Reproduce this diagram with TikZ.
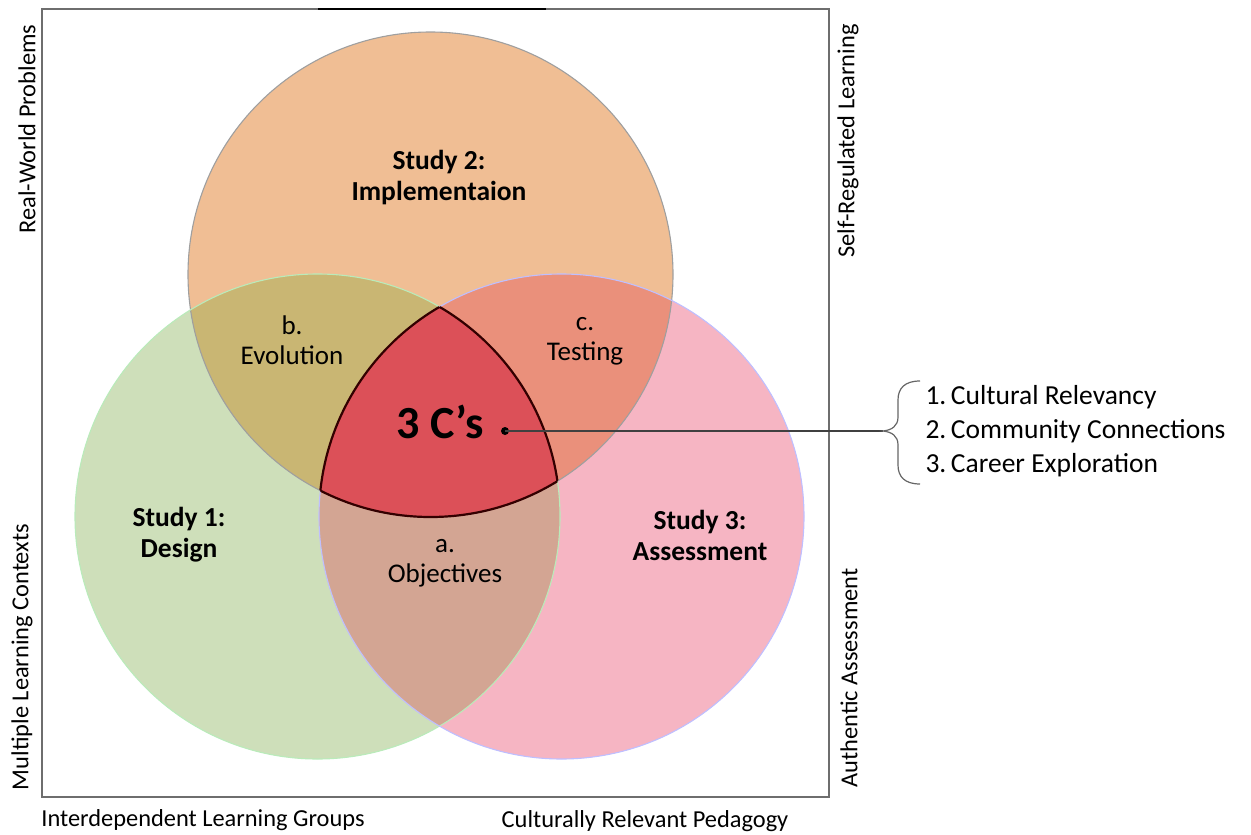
\documentclass[tikz,border=0pt]{standalone}
\usepackage{fontspec}
\setmainfont{Carlito}
\usetikzlibrary{positioning}

\definecolor{greenset}{HTML}{CEDFBA}
\definecolor{orangeset}{HTML}{F0BE94}
\definecolor{pinkset}{HTML}{F6B5C3}
\definecolor{olivecut}{HTML}{C9B673}
\definecolor{salmoncut}{HTML}{EA907B}
\definecolor{tancut}{HTML}{D3A593}
\definecolor{corecut}{HTML}{DC5058}
\definecolor{framegray}{HTML}{6E6E6E}

\begin{document}
\begin{tikzpicture}[x=1pt, y=-1pt,
    axislbl/.style={font=\fontsize{24.4}{29}\selectfont},
    studylbl/.style={font=\fontsize{27.5}{31}\selectfont\bfseries, align=center},
    partlbl/.style={font=\fontsize{27}{30}\selectfont, align=center},
    listlbl/.style={font=\fontsize{27.5}{34}\selectfont, align=left, anchor=west},
    ring/.style={line width=1.1pt}
]
    \useasboundingbox (0,0) rectangle (1251,835);

    % centres of the three studies
    \coordinate (s1) at (317.5,516.5);
    \coordinate (s2) at (430.5,274.5);
    \coordinate (s3) at (561.5,516.5);
    \def\rad{242.5pt}

    % frame
    \draw[framegray, line width=1.6pt] (42,9) rectangle (829,797);
    \draw[black, line width=1.8pt] (318,9) -- (546,9);

    % plain circles
    \fill[greenset]  (s1) circle (\rad);
    \fill[orangeset] (s2) circle (\rad);
    \fill[pinkset]   (s3) circle (\rad);

    % pairwise overlaps
    \begin{scope}
        \clip (s1) circle (\rad);
        \fill[olivecut] (s2) circle (\rad);
        \fill[tancut] (s3) circle (\rad);
    \end{scope}
    \begin{scope}
        \clip (s2) circle (\rad);
        \fill[salmoncut] (s3) circle (\rad);
    \end{scope}

    % outlines
    \draw[ring, color=gray!75] (s2) circle (\rad);
    \draw[ring, color=gray!45!green!35!white] (s1) circle (\rad);
    \draw[ring, color=blue!25!white] (s3) circle (\rad);

    % core region
    \begin{scope}
        \clip (s1) circle (\rad);
        \clip (s2) circle (\rad);
        \fill[corecut] (s3) circle (\rad);
        \draw[line width=2.2pt, color=black!80!red] (s3) circle (\rad);
    \end{scope}
    \begin{scope}
        \clip (s2) circle (\rad);
        \clip (s3) circle (\rad);
        \draw[line width=2.2pt, color=black!80!red] (s1) circle (\rad);
    \end{scope}
    \begin{scope}
        \clip (s1) circle (\rad);
        \clip (s3) circle (\rad);
        \draw[line width=2.2pt, color=black!80!red] (s2) circle (\rad);
    \end{scope}

    % labels inside the circles
    \node[studylbl] (design) at (179,535) {Study 1:\\Design};
    \node[studylbl] (implement) at (439,178) {Study 2:\\Implementaion};
    \node[studylbl] (assess) at (700,535) {Study 3:\\Assessment};
    \node[partlbl] (evolution) at (292,340) {b.\\Evolution};
    \node[partlbl] (testing) at (585,341) {c.\\Testing};
    \node[partlbl] (objectives) at (445,563) {a.\\Objectives};
    \node[font=\fontsize{46}{50}\selectfont\bfseries] (core) at (440,422) {3 C’s};

    % pointer to the list
    \node[circle, fill=black, inner sep=0pt, minimum size=8pt] (dot) at (505,431) {};
    \coordinate (tip) at (883,431);
    \draw[black!75, line width=1.2pt] (dot.center) -- (tip);
    \draw[black!60, line width=1.2pt]
        (920,381) .. controls (905,381) and (898,388) .. (898,400)
        -- (898,417) .. controls (898,426) and (892,430) .. (tip)
        .. controls (892,432) and (898,436) .. (898,445)
        -- (898,465) .. controls (898,477) and (905,484) .. (920,484);
    \node[listlbl] (threecs) at (922,431)
        {1.\,Cultural Relevancy\\2.\,Community Connections\\3.\,Career Exploration};

    % axis labels around the frame
    \node[axislbl, rotate=90] (realworld) at (27,129) {Real-World Problems};
    \node[axislbl, rotate=90] (contexts) at (22,657) {Multiple Learning Contexts};
    \node[axislbl, rotate=90] (selfreg) at (848,141) {Self-Regulated Learning};
    \node[axislbl, rotate=90] (authentic) at (849,678) {Authentic Assessment};
    \node[axislbl] (groups) at (203,820) {Interdependent Learning Groups};
    \node[axislbl] (pedagogy) at (645,821) {Culturally Relevant Pedagogy};
\end{tikzpicture}
\end{document}
